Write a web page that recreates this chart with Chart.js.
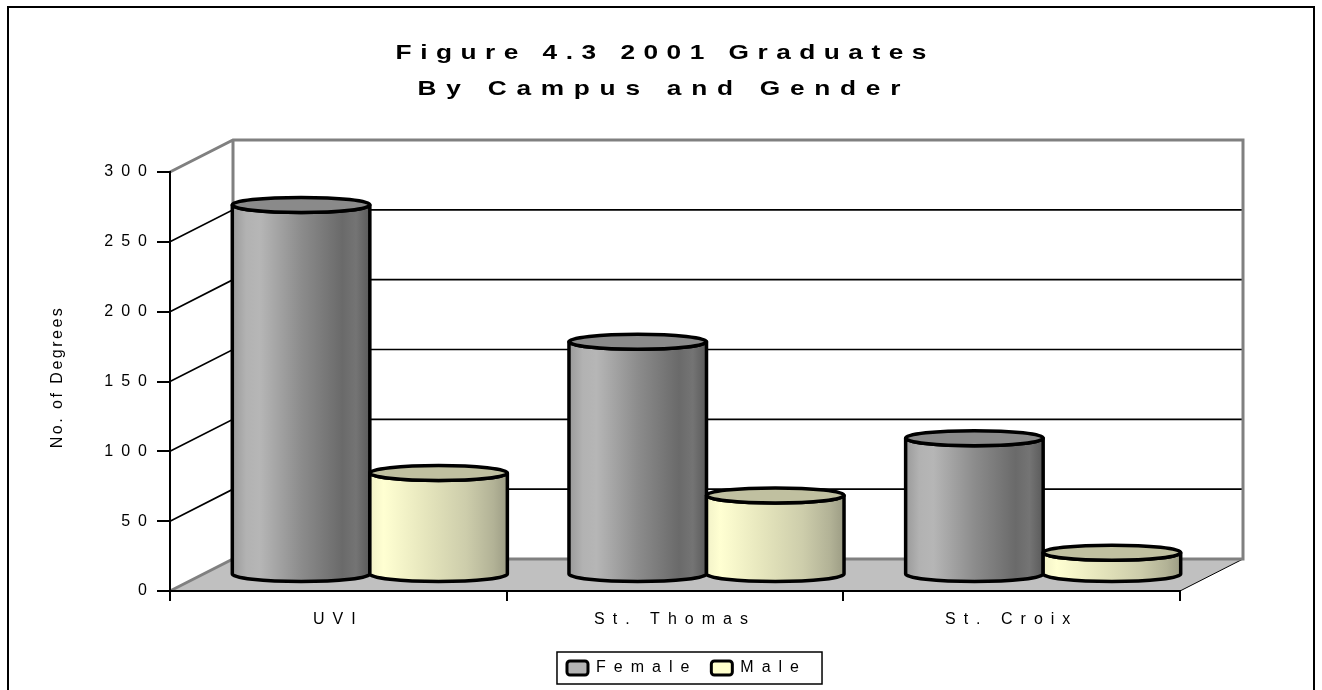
<!DOCTYPE html>
<html>
<head>
<meta charset="utf-8">
<script src="https://cdn.jsdelivr.net/npm/chart.js@4"></script>
<style>
html,body{margin:0;padding:0;background:#fff}
#wrap{width:1322px;height:690px}
</style>
</head>
<body>
<div id="wrap"><canvas id="c" width="1322" height="690"></canvas></div>
<script>
// data
const CAMPUS=['UVI','St. Thomas','St. Croix'];
const FEMALE=[265,167,98];
const MALE=[73,57,16];
const Y_MAX=300, Y_STEP=50;
const TITLE=['Figure 4.3 2001 Graduates','By Campus and Gender'];
const Y_TITLE='No. of Degrees';

// 3d look
const DX=63, DY=-32;
const FONT='"Liberation Sans", Arial, sans-serif';
Chart.defaults.font.family=FONT;
Chart.defaults.color='#000';

const STYLES=[
 {stops:[[0,'#9a9a9a'],[0.1,'#b2b2b2'],[0.2,'#b6b6b6'],[0.5,'#8c8c8c'],[0.8,'#6a6a6a'],[0.9,'#747474'],[1,'#5a5a5a']],top:'#8a8a8a'},
 {stops:[[0,'#f2f2c8'],[0.1,'#ffffd2'],[0.4,'#e6e6bd'],[0.7,'#cdcdab'],[0.9,'#b2b296'],[1,'#9c9c84']],top:'#c0c0a0'}
];

function cylinder(ctx,x0,x1,yTop,yBase,st){
 const cx=(x0+x1)/2, rx=(x1-x0)/2, ry=7.5;
 const g=ctx.createLinearGradient(x0,0,x1,0);
 st.stops.forEach(s=>g.addColorStop(s[0],s[1]));
 ctx.beginPath();
 ctx.moveTo(x0,yTop);
 ctx.lineTo(x0,yBase);
 ctx.ellipse(cx,yBase,rx,ry,0,Math.PI,0,true);
 ctx.lineTo(x1,yTop);
 ctx.ellipse(cx,yTop,rx,ry,0,0,Math.PI,false);
 ctx.closePath();
 ctx.fillStyle=g;ctx.fill();ctx.stroke();
 ctx.beginPath();
 ctx.ellipse(cx,yTop,rx,ry,0,0,Math.PI*2);
 ctx.fillStyle=st.top;ctx.fill();ctx.stroke();
}

// stretched, letter spaced text like the old excel picture
function wideText(ctx,txt,x,y,sx,sp){
 ctx.save();
 ctx.translate(x,y);ctx.scale(sx,1);
 ctx.letterSpacing=sp+'px';
 ctx.fillText(txt,sp/2,0);
 ctx.restore();
}

const depth3d={
 id:'depth3d',
 beforeLayout(chart){chart.ctx.letterSpacing='8px'},
 afterLayout(chart){
  // legend sits a bit right of the plot centre in the original
  const lg=chart.legend; lg.left+=12; lg.right+=12;
 },
 beforeDraw(chart){
  const ctx=chart.ctx; ctx.letterSpacing='8px';
  const x=chart.scales.x, y=chart.scales.y;
  const L=x.left, R=x.right, B=y.getPixelForValue(0), T=y.getPixelForValue(Y_MAX);
  ctx.save();
  // floor
  ctx.fillStyle='#c0c0c0';
  ctx.beginPath();ctx.moveTo(L,B);ctx.lineTo(R,B);ctx.lineTo(R+DX,B+DY);ctx.lineTo(L+DX,B+DY);ctx.closePath();ctx.fill();
  ctx.strokeStyle='#000';ctx.lineWidth=1;
  ctx.beginPath();ctx.moveTo(R,B);ctx.lineTo(R+DX,B+DY);ctx.stroke();
  // gridlines on side wall and back wall
  ctx.lineWidth=1.6;
  y.ticks.forEach(t=>{
   if(t.value<=0||t.value>=Y_MAX)return;
   const p=y.getPixelForValue(t.value);
   ctx.beginPath();ctx.moveTo(L,p);ctx.lineTo(L+DX,p+DY);ctx.lineTo(R+DX,p+DY);ctx.stroke();
  });
  // grey wall edges
  ctx.strokeStyle='#808080';ctx.lineWidth=3;
  ctx.beginPath();
  ctx.moveTo(L,T);ctx.lineTo(L+DX,T+DY);ctx.lineTo(R+DX,T+DY);ctx.lineTo(R+DX,B+DY);ctx.lineTo(L+DX,B+DY);ctx.lineTo(L,B);
  ctx.moveTo(L+DX,T+DY);ctx.lineTo(L+DX,B+DY);
  ctx.stroke();
  ctx.restore();
 },
 beforeDatasetsDraw(chart){
  const ctx=chart.ctx;
  const metas=[chart.getDatasetMeta(0).data,chart.getDatasetMeta(1).data];
  ctx.save();
  ctx.strokeStyle='#000';ctx.lineWidth=3.5;ctx.lineJoin='round';
  for(let i=0;i<CAMPUS.length;i++){
   metas.forEach((m,k)=>{
    const el=m[i];
    const x0=el.x-el.width/2+DX/2, x1=el.x+el.width/2+DX/2;
    cylinder(ctx,x0,x1,el.y+DY/2,el.base+DY/2,STYLES[k]);
   });
  }
  ctx.restore();
  return false;
 },
 afterDraw(chart){
  const ctx=chart.ctx;
  ctx.save();
  ctx.fillStyle='#000';
  // title
  ctx.font='bold 21px '+FONT;
  ctx.textAlign='center';ctx.textBaseline='middle';
  wideText(ctx,TITLE[0],661,53,1.25,6.8);
  wideText(ctx,TITLE[1],659,89,1.25,7.8);
  // axis title
  ctx.font='16px '+FONT;
  ctx.letterSpacing='2.5px';
  ctx.translate(58,377);ctx.rotate(-Math.PI/2);
  ctx.fillText(Y_TITLE,0,0);
  ctx.restore();
  // legend box
  const hb=chart.legend.legendHitBoxes;
  if(hb&&hb.length){
   const l=Math.min(...hb.map(h=>h.left))-10;
   const r=Math.max(...hb.map(h=>h.left+h.width))+15;
   const t=hb[0].top-8, b=hb[0].top+hb[0].height+8;
   ctx.save();ctx.strokeStyle='#000';ctx.lineWidth=1.5;
   ctx.strokeRect(l,t,r-l,b-t);ctx.restore();
  }
  // outer frame
  ctx.save();ctx.strokeStyle='#000';ctx.lineWidth=2;
  ctx.strokeRect(8,7,1306,700);ctx.restore();
 }
};

new Chart(document.getElementById('c'),{
 type:'bar',
 data:{
  labels:CAMPUS,
  datasets:[
   {label:'Female',data:FEMALE,backgroundColor:'#b3b3b3',borderColor:'#000',borderWidth:3},
   {label:'Male',data:MALE,backgroundColor:'#ffffcc',borderColor:'#000',borderWidth:3}
  ]
 },
 options:{
  responsive:false,
  animation:false,
  categoryPercentage:0.817,
  barPercentage:1,
  layout:{padding:{left:0,top:172,right:142,bottom:4}},
  plugins:{
   title:{display:false},
   tooltip:{enabled:false},
   legend:{
    position:'bottom',fullSize:false,
    labels:{font:{size:16},boxWidth:21,boxHeight:14,padding:14,useBorderRadius:true,borderRadius:3}
   }
  },
  scales:{
   x:{
    grid:{drawOnChartArea:false,tickLength:10,color:'#000',lineWidth:2},
    border:{display:true,color:'#000',width:2},
    ticks:{font:{size:16},padding:9,maxRotation:0,autoSkip:false},
    afterFit(s){s.height=55}
   },
   y:{
    min:0,max:Y_MAX,
    grid:{drawOnChartArea:false,tickLength:13,color:'#000',lineWidth:2},
    border:{display:true,color:'#000',width:2},
    ticks:{stepSize:Y_STEP,font:{size:16},padding:2},
    afterFit(s){s.width=170}
   }
  }
 },
 plugins:[depth3d]
});
</script>
</body>
</html>
